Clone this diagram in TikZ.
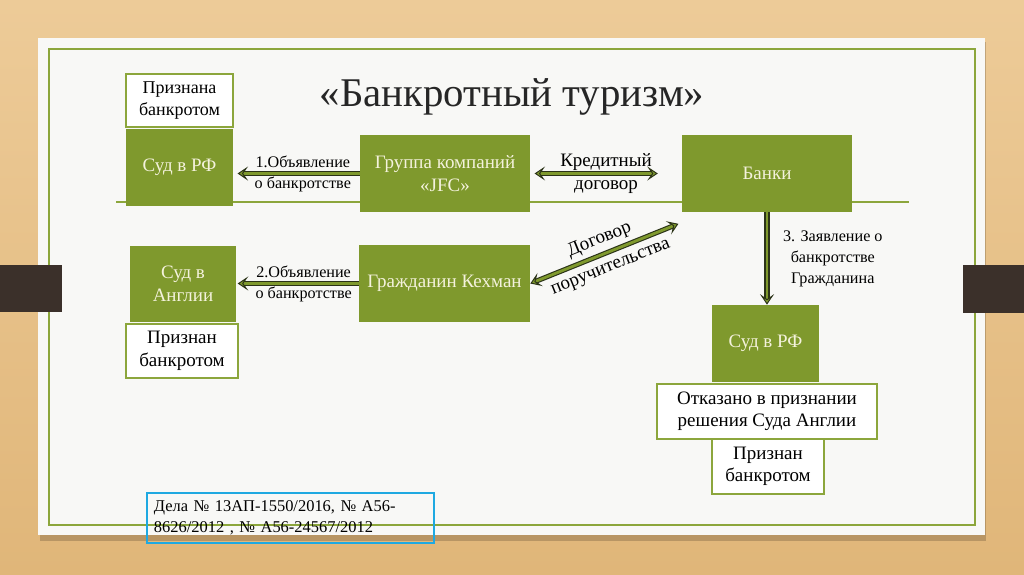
\documentclass[tikz,border=0pt]{standalone}
\usepackage{fontspec}
\setmainfont{Liberation Serif}
\usetikzlibrary{arrows.meta,calc}
\definecolor{grn}{HTML}{7F992D}
\definecolor{grnline}{HTML}{8CA63C}
\definecolor{cream}{HTML}{F4F2DC}
\definecolor{woodtop}{HTML}{EDCB98}
\definecolor{woodbot}{HTML}{E0B679}
\definecolor{slide}{HTML}{F8F8F6}
\definecolor{tab}{HTML}{3B302A}
\definecolor{casebl}{HTML}{1FA9E1}
\definecolor{arrdark}{HTML}{2B3318}
\begin{document}
\begin{tikzpicture}[x=0.025cm, y=-0.025cm,
    gbox/.style={fill=grn, text=cream, inner sep=0pt, align=center, font=\fontsize{13.5}{16}\selectfont},
    wbox/.style={draw=grnline, line width=1.4pt, fill=white, inner sep=0pt, align=center, font=\fontsize{13.5}{16}\selectfont},
    lbl/.style={align=center, font=\fontsize{11.5}{15}\selectfont, inner sep=1pt},
    tip/.tip={Stealth[length=7.5pt, width=10pt, inset=3.5pt, fill=grn, color=arrdark, line width=0.7pt]},
    arr/.style={draw=arrdark, double=grn, double distance=2pt, line width=0.8pt, -tip},
    ]
    \useasboundingbox (0,0) rectangle (1024,574);

    % background and slide
    \shade[top color=woodtop, bottom color=woodbot] (0,0) rectangle (1024,574);
    \fill[black, opacity=0.18] (40,42) rectangle (986,541);
    \fill[slide] (38,38) rectangle (985,535);
    \draw[grnline, line width=0.8pt] (49,49) rectangle (975,525);
    \fill[tab] (0,265) rectangle (62,312);
    \fill[tab] (963,265) rectangle (1024,313);
    \draw[grnline, line width=1pt] (116,202) -- (909,202);

    \node[font=\fontsize{29}{33}\selectfont, text=black!85] (title) at (512,97) {«Банкротный туризм»};

    % top row
    \node[wbox, minimum width=2.675cm, minimum height=1.325cm, font=\fontsize{12.8}{15}\selectfont] (rfmark) at (179.5,100.5) {Признана\\банкротом};
    \node[gbox, minimum width=2.675cm, minimum height=1.925cm] (sudrf) at (179.5,167.5) {Суд в РФ};
    \node[gbox, minimum width=4.25cm, minimum height=1.925cm] (jfc) at (445,173.5) {Группа компаний\\«JFC»};
    \node[gbox, minimum width=4.25cm, minimum height=1.925cm] (banks) at (767,173.5) {Банки};

    % second row
    \node[gbox, minimum width=2.65cm, minimum height=1.9cm] (sudeng) at (183,284) {Суд в\\Англии};
    \node[wbox, minimum width=2.8cm, minimum height=1.35cm] (engmark) at (182,351) {Признан\\банкротом};
    \node[gbox, minimum width=4.275cm, minimum height=1.925cm] (kehman) at (444.5,283.5) {Гражданин Кехман};

    % right column
    \node[gbox, minimum width=2.675cm, minimum height=1.925cm] (sudrf2) at (765.5,343.5) {Суд в РФ};
    \node[wbox, minimum width=5.5cm, minimum height=1.375cm] (refuse) at (767,411.5) {Отказано в признании\\решения Суда Англии};
    \node[wbox, minimum width=2.8cm, minimum height=1.375cm] (rf2mark) at (768,466.5) {Признан\\банкротом};

    % arrows
    \draw[arr, shorten >=3pt] (jfc.west) -- (jfc.west -| sudrf.east)
        node[lbl, pos=0.45] (decl1) {1.Объявление\\о банкротстве};
    \draw[arr, shorten >=1pt] (kehman.west) -- (kehman.west -| sudeng.east)
        node[lbl, pos=0.45] (decl2) {2.Объявление\\о банкротстве};
    \draw[arr, tip-tip, shorten <=3pt, shorten >=17pt] (jfc.east) -- (banks.west)
        node[lbl, midway, font=\fontsize{13.5}{16}\selectfont] (credit) {Кредитный\\[1pt]договор};
    \draw[arr, tip-tip, shorten >=1pt] (kehman.east) -- ($(banks.south west)+(-2,11)$)
        node[lbl, midway, sloped, font=\fontsize{13.5}{16}\selectfont] (guar) {Договор\\[5pt]поручительства};
    \draw[arr] (banks.south) -- (banks.south |- sudrf2.north)
        node[lbl, midway, anchor=west, xshift=10pt] (claim) {3. Заявление о\\банкротстве\\Гражданина};

    % case numbers
    \node[draw=casebl, line width=1.8pt, minimum width=7.175cm, minimum height=1.25cm, inner xsep=5pt,
        text width=7.175cm-10pt, align=left, font=\fontsize{11.7}{15}\selectfont] (cases) at (290.5,518)
        {Дела № 13АП-1550/2016, № А56-\\8626/2012 , № А56-24567/2012};
\end{tikzpicture}
\end{document}
